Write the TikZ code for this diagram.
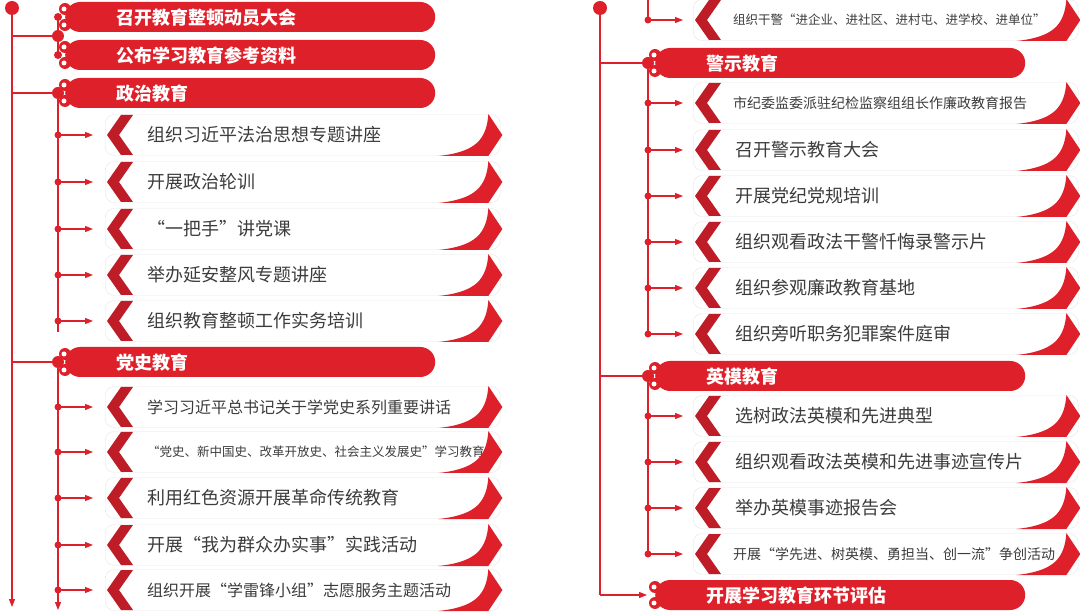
\documentclass[tikz,border=0pt]{standalone}
\usepackage{fontspec}
\setmainfont{Noto Sans CJK SC}
\usetikzlibrary{positioning, arrows.meta, calc}

\definecolor{edRed}{RGB}{222,32,42}
\definecolor{edDark}{RGB}{190,28,38}
\definecolor{edText}{RGB}{60,60,60}

\begin{document}
\begin{tikzpicture}[x=1pt, y=-1pt,
    hdr/.style={fill=edRed, rounded corners=15pt, minimum height=30pt, anchor=west,
                text=white, font=\fontsize{18}{18}\selectfont\bfseries, align=left,
                inner xsep=0pt, text depth=0pt},
    item/.style={draw=gray!20, fill=white, rounded corners=9pt, minimum height=41pt,
                 anchor=west, text=edText, font=\fontsize{18}{18}\selectfont,
                 inner xsep=0pt},
    mid/.style={font=\fontsize{16}{16}\selectfont},
    small/.style={font=\fontsize{14}{14}\selectfont},
    tiny/.style={font=\fontsize{12.5}{13}\selectfont},
    link/.style={edRed, line width=1.3pt},
    tip/.style={link, -{Triangle[length=8pt, width=6pt]}},
]
\useasboundingbox (0,0) rectangle (1080,612);

% ---------- left column headers
\foreach \n/\y/\t in {h1/17/召开教育整顿动员大会, h2/55/公布学习教育参考资料,
                      h3/93/政治教育, h4/362/党史教育} {
  \node[hdr, minimum width=370pt, text width=360pt] (\n) at (65,\y) {\hspace*{46pt}\t};
}
% ---------- right column headers
\foreach \n/\y/\t in {k1/63/警示教育, k2/376/英模教育, k3/595/开展学习教育环节评估} {
  \node[hdr, minimum width=370pt, text width=360pt] (\n) at (655,\y) {\hspace*{46pt}\t};
}

% ---------- left column items
\foreach \n/\y/\t in {a1/135/组织习近平法治思想专题讲座, a2/182/开展政治轮训,
                      a3/229/“一把手”讲党课, a4/275/举办延安整风专题讲座,
                      a5/321/组织教育整顿工作实务培训,
                      b3/498/利用红色资源开展革命传统教育, b4/545/开展“我为群众办实事”实践活动} {
  \node[item, minimum width=395pt, text width=395pt] (\n) at (105,\y) {\hspace*{42pt}\t};
}
\foreach \n/\y/\t in {b1/407/学习习近平总书记关于学党史系列重要讲话,
                      b5/590/组织开展“学雷锋小组”志愿服务主题活动} {
  \node[item, mid, minimum width=395pt, text width=395pt] (\n) at (105,\y) {\hspace*{42pt}\t};
}
\node[item, tiny, minimum width=395pt, text width=395pt] (b2) at (105,452)
  {\hspace*{42pt}“党史、新中国史、改革开放史、社会主义发展史”学习教育};

% ---------- right column items
\node[item, tiny, minimum width=385pt, text width=385pt] (c1) at (693,20)
  {\hspace*{40pt}组织干警“进企业、进社区、进村屯、进学校、进单位”};
\foreach \n/\y/\t in {d1/103/市纪委监委派驻纪检监察组组长作廉政教育报告,
                      e4/554/开展“学先进、树英模、勇担当、创一流”争创活动} {
  \node[item, small, minimum width=385pt, text width=385pt] (\n) at (693,\y) {\hspace*{40pt}\t};
}
\foreach \n/\y/\t in {d2/150/召开警示教育大会, d3/196/开展党纪党规培训,
                      d4/242/组织观看政法干警忏悔录警示片, d5/288/组织参观廉政教育基地,
                      d6/334/组织旁听职务犯罪案件庭审, e1/416/选树政法英模和先进典型,
                      e2/462/组织观看政法英模和先进事迹宣传片, e3/508/举办英模事迹报告会} {
  \node[item, minimum width=385pt, text width=385pt] (\n) at (693,\y) {\hspace*{42pt}\t};
}

% chevrons on the items
\foreach \n in {a1,a2,a3,a4,a5,b1,b2,b3,b4,b5,c1,d1,d2,d3,d4,d5,d6,e1,e2,e3,e4} {
  \fill[edDark] ($(\n.west)+(2,0)$) -- ++(14,-20) -- ++(12,0) -- ++(-14,20)
    -- ++(14,20) -- ++(-12,0) -- cycle;
  \fill[edRed] ($(\n.east)+(-12,-21)$) -- ($(\n.east)+(2,0)$) -- ($(\n.east)+(-12,21)$)
    -- ($(\n.east)+(-62,21)$) .. controls ($(\n.east)+(-25,17)$) and ($(\n.east)+(-14,5)$)
    .. ($(\n.east)+(-12,-21)$);
}
% scroll ends on the headers
\foreach \n in {h1,h2,h3,h4,k1,k2,k3} {
  \foreach \d in {-8,8} {
    \fill[edRed] ($(\n.west)+(0,\d)$) circle (6);
    \fill[white] ($(\n.west)+(-1,\d)$) circle (2.5);
  }
}

% ---------- left trunk and branches
\coordinate (Ltop) at (12,8);
\coordinate (Lbot) at (12,607);
\coordinate (Ls1) at (58,36);
\coordinate (Ls2) at (58,93);
\coordinate (Ls3) at (58,362);
\coordinate (Lend) at (58,610);
\draw[tip] (Ltop) -- (Lbot);
\fill[edRed] (Ltop) circle (7);
\foreach \s in {Ls1,Ls2,Ls3} {
  \draw[link] (Ltop |- \s) -- (\s);
  \fill[edRed] (\s) circle (6);
}
\draw[link] (58,17) -- (Ls1) -- (58,55);
\fill[edRed] (58,17) circle (4) (58,55) circle (4);
\draw[link] (Ls2) -- (58,332);
\draw[tip] (Ls3) -- (Lend);
\foreach \n in {a1,a2,a3,a4,a5,b1,b2,b3,b4,b5} {
  \fill[edRed] (Ls2 |- \n.west) circle (3.5);
  \draw[tip] (Ls2 |- \n.west) -- ($(\n.west)+(-12,0)$);
}

% ---------- right trunk and branches
\coordinate (Rtop) at (600,8);
\coordinate (Rs1) at (648,63);
\coordinate (Rs2) at (648,376);
\draw[link] (Rtop) -- (600,595);
\fill[edRed] (Rtop) circle (7);
\draw[tip] (600,595) -- ($(k3.west)+(-8,0)$);
\draw[link] (648,0) -- (648,20);
\foreach \s in {Rs1,Rs2} {
  \draw[link] (Rtop |- \s) -- (\s);
  \fill[edRed] (\s) circle (6);
}
\draw[link] (Rs1) -- (648,334);
\draw[link] (Rs2) -- (648,554);
\foreach \n in {c1,d1,d2,d3,d4,d5,d6,e1,e2,e3,e4} {
  \fill[edRed] (Rs1 |- \n.west) circle (3.5);
  \draw[tip] (Rs1 |- \n.west) -- ($(\n.west)+(-10,0)$);
}
\end{tikzpicture}
\end{document}
